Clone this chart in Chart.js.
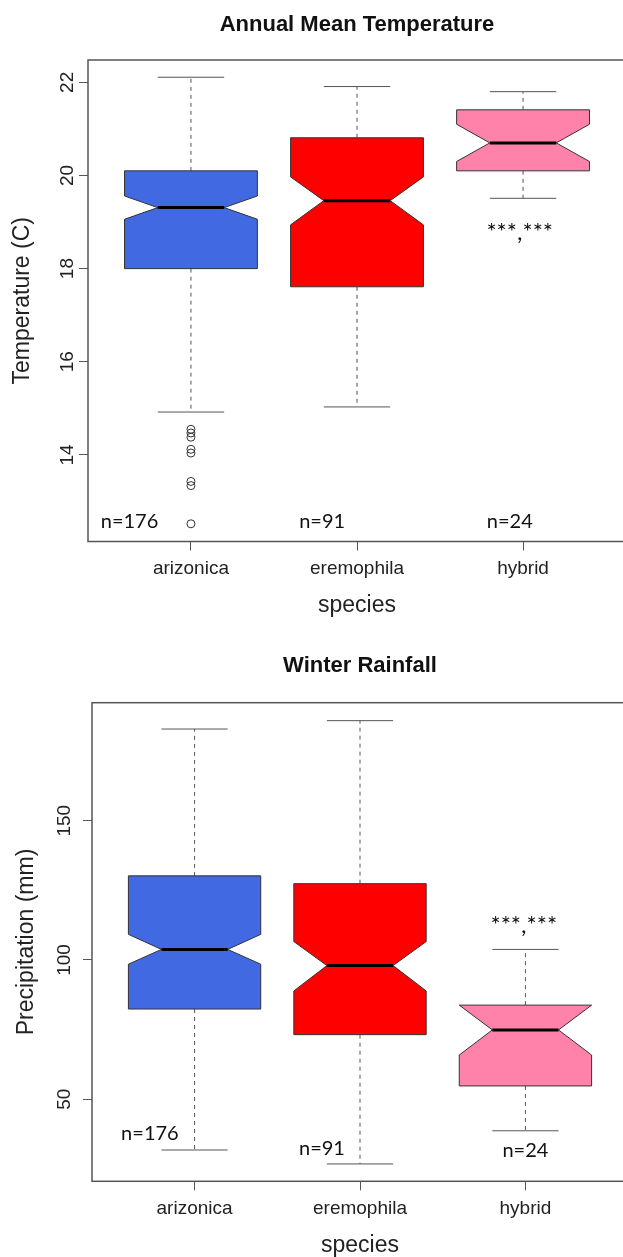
<!DOCTYPE html>
<html>
<head>
<meta charset="utf-8">
<script src="https://cdn.jsdelivr.net/npm/chart.js@4"></script>
<style>
  html, body { margin: 0; padding: 0; background: #fff; overflow: hidden; width: 623px; height: 1257px; }
  canvas { display: block; }
</style>
</head>
<body>
<canvas id="tempChart" width="640" height="640"></canvas>
<canvas id="rainChart" width="640" height="640"></canvas>
<script>
// species and sample sizes
const species = ['arizonica', 'eremophila', 'hybrid'];
const nCounts = [176, 91, 24];
const boxColors = ['#4169E1', '#FF0000', '#FF82AB'];

// Annual mean temperature (C)
const tempLow = [14.92, 15.03, 19.51];
const tempQ1 = [18.0, 17.61, 20.10];
const tempNotchLo = [19.06, 18.94, 20.30];
const tempMedian = [19.31, 19.46, 20.70];
const tempNotchHi = [19.56, 19.97, 21.10];
const tempQ3 = [20.10, 20.81, 21.41];
const tempHigh = [22.11, 21.91, 21.80];
const tempOutliers = [14.55, 14.47, 14.38, 14.12, 14.04, 13.43, 13.34, 12.52]; // arizonica
const tempTicks = [14, 16, 18, 20, 22];

// Winter rainfall (mm)
const rainLow = [31.8, 26.8, 38.7];
const rainQ1 = [82.4, 73.2, 54.8];
const rainNotchLo = [98.5, 88.9, 65.9];
const rainMedian = [103.8, 98.0, 74.9];
const rainNotchHi = [109.2, 106.6, 83.8];
const rainQ3 = [130.2, 127.4, 83.8];
const rainHigh = [182.9, 185.9, 103.8];
const rainOutliers = [];
const rainTicks = [50, 100, 150];

const sigText = '***,***';

Chart.defaults.font.family = "'Liberation Sans', Arial, sans-serif";
Chart.defaults.color = '#222';

// draws the notched boxes, whiskers, frame and the n= / significance notes
const notchedBoxes = {
    id: 'notchedBoxes',
    beforeDatasetsDraw(chart, args, o) {
        const { ctx, scales: { x, y } } = chart;
        const s = o.stats;
        const line = (x1, y1, x2, y2) => { ctx.beginPath(); ctx.moveTo(x1, y1); ctx.lineTo(x2, y2); ctx.stroke(); };
        ctx.save();
        s.median.forEach((m, i) => {
            const cx = x.getPixelForValue(i + 1);
            const hw = x.getPixelForValue(i + 1.4) - cx;
            const nw = hw / 2;
            const pLo = y.getPixelForValue(s.low[i]);
            const pQ1 = y.getPixelForValue(s.q1[i]);
            const pNLo = y.getPixelForValue(s.notchLo[i]);
            const pMed = y.getPixelForValue(m);
            const pNHi = y.getPixelForValue(s.notchHi[i]);
            const pQ3 = y.getPixelForValue(s.q3[i]);
            const pHi = y.getPixelForValue(s.high[i]);

            // whiskers
            ctx.strokeStyle = '#555';
            ctx.lineWidth = 1;
            ctx.setLineDash([4, 4]);
            line(cx, pQ3, cx, pHi);
            line(cx, pQ1, cx, pLo);
            ctx.setLineDash([]);
            line(cx - nw, pHi, cx + nw, pHi);
            line(cx - nw, pLo, cx + nw, pLo);

            // notched box
            ctx.beginPath();
            ctx.moveTo(cx - hw, pQ1);
            ctx.lineTo(cx - hw, pNLo);
            ctx.lineTo(cx - nw, pMed);
            ctx.lineTo(cx - hw, pNHi);
            ctx.lineTo(cx - hw, pQ3);
            ctx.lineTo(cx + hw, pQ3);
            ctx.lineTo(cx + hw, pNHi);
            ctx.lineTo(cx + nw, pMed);
            ctx.lineTo(cx + hw, pNLo);
            ctx.lineTo(cx + hw, pQ1);
            ctx.closePath();
            ctx.fillStyle = o.colors[i];
            ctx.fill();
            ctx.strokeStyle = '#333';
            ctx.lineWidth = 1;
            ctx.stroke();

            // median
            ctx.strokeStyle = '#000';
            ctx.lineWidth = 3;
            line(cx - nw, pMed, cx + nw, pMed);
        });
        ctx.restore();
    },
    afterDatasetsDraw(chart, args, o) {
        const { ctx, chartArea: a, scales: { x, y } } = chart;
        ctx.save();
        ctx.strokeStyle = '#555';
        ctx.lineWidth = 1.5;
        ctx.strokeRect(a.left, a.top, a.right - a.left, a.bottom - a.top);

        ctx.fillStyle = '#111';
        ctx.font = "20px Lato, 'Open Sans', sans-serif";
        ctx.textAlign = 'center';
        ctx.textBaseline = 'middle';
        nCounts.forEach((n, i) => {
            ctx.fillText('n=' + n, x.getPixelForValue(o.nAt.x[i]), y.getPixelForValue(o.nAt.y[i]));
        });
        ctx.font = "24px Lato, 'Open Sans', sans-serif";
        ctx.textBaseline = 'alphabetic';
        ctx.fillText(sigText, x.getPixelForValue(o.sigAt.x), y.getPixelForValue(o.sigAt.y));
        ctx.restore();
    }
};

function makeBoxChart(id, cfg) {
    return new Chart(document.getElementById(id), {
        type: 'scatter',
        data: {
            datasets: [{
                data: cfg.outliers.map(v => ({ x: 1, y: v })),
                pointStyle: 'circle',
                pointRadius: 4,
                backgroundColor: 'rgba(0,0,0,0)',
                borderColor: '#333',
                borderWidth: 1
            }]
        },
        plugins: [notchedBoxes],
        options: {
            responsive: false,
            animation: false,
            devicePixelRatio: 1,
            layout: { padding: { left: 0, right: cfg.padRight, top: 0, bottom: 0 } },
            plugins: {
                legend: { display: false },
                tooltip: { enabled: false },
                title: {
                    display: true,
                    text: cfg.title,
                    fullSize: false,
                    color: '#111',
                    font: { size: 22, weight: 'bold' },
                    padding: { top: cfg.titleTop, bottom: cfg.titleBottom }
                },
                notchedBoxes: {
                    stats: cfg.stats,
                    colors: boxColors,
                    nAt: cfg.nAt,
                    sigAt: cfg.sigAt
                }
            },
            scales: {
                x: {
                    type: 'linear',
                    min: 0.38,
                    max: 3.62,
                    afterBuildTicks: s => { s.ticks = species.map((_, i) => ({ value: i + 1 })); },
                    afterFit: s => { s.height = cfg.xHeight; },
                    ticks: {
                        autoSkip: false,
                        maxRotation: 0,
                        padding: 7,
                        font: { size: 19 },
                        color: '#222',
                        callback: v => species[v - 1]
                    },
                    grid: { drawOnChartArea: false, drawTicks: true, tickLength: 9, color: '#555' },
                    border: { display: false },
                    title: {
                        display: true,
                        text: 'species',
                        color: '#222',
                        font: { size: 23 },
                        padding: { top: 0, bottom: 21 }
                    }
                },
                y: {
                    type: 'linear',
                    min: cfg.yMin,
                    max: cfg.yMax,
                    afterBuildTicks: s => { s.ticks = cfg.yTicks.map(v => ({ value: v })); },
                    afterFit: s => { s.width = cfg.yWidth; },
                    ticks: {
                        minRotation: 90,
                        maxRotation: 90,
                        crossAlign: 'center',
                        padding: cfg.yTickPad,
                        font: { size: 19 },
                        color: '#222'
                    },
                    grid: { drawOnChartArea: false, drawTicks: true, tickLength: 9, color: '#555' },
                    border: { display: false },
                    title: {
                        display: true,
                        text: cfg.yTitle,
                        color: '#222',
                        font: { size: 23 },
                        padding: { top: cfg.yTitlePad, bottom: 0 }
                    }
                }
            }
        }
    });
}

makeBoxChart('tempChart', {
    title: 'Annual Mean Temperature',
    yTitle: 'Temperature (C)',
    stats: { low: tempLow, q1: tempQ1, notchLo: tempNotchLo, median: tempMedian, notchHi: tempNotchHi, q3: tempQ3, high: tempHigh },
    outliers: tempOutliers,
    yMin: 12.14, yMax: 22.48, yTicks: tempTicks,
    nAt: { x: [0.63, 1.79, 2.92], y: [12.56, 12.56, 12.56] },
    sigAt: { x: 2.98, y: 18.62 },
    titleTop: 12, titleBottom: 21.6,
    xHeight: 98.5, yWidth: 88, yTickPad: 1, yTitlePad: 9, padRight: 14
});

makeBoxChart('rainChart', {
    title: 'Winter Rainfall',
    yTitle: 'Precipitation (mm)',
    stats: { low: rainLow, q1: rainQ1, notchLo: rainNotchLo, median: rainMedian, notchHi: rainNotchHi, q3: rainQ3, high: rainHigh },
    outliers: rainOutliers,
    yMin: 20.57, yMax: 192.35, yTicks: rainTicks,
    nAt: { x: [0.73, 1.77, 3.0], y: [37.7, 32.2, 31.5] },
    sigAt: { x: 2.99, y: 109.6 },
    titleTop: 13, titleBottom: 23.3,
    xHeight: 98.7, yWidth: 92, yTickPad: 2, yTitlePad: 13, padRight: 12
});
</script>
</body>
</html>
